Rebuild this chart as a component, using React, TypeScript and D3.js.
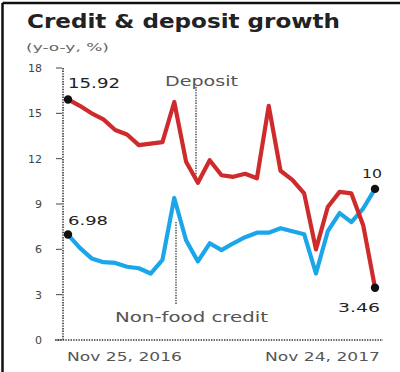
import React from "react";
import * as d3 from "d3";

const dates = [
  "2016-11-25", "2016-12-09", "2016-12-23", "2017-01-06", "2017-01-20", "2017-02-03",
  "2017-02-17", "2017-03-03", "2017-03-17", "2017-03-31", "2017-04-14", "2017-04-28",
  "2017-05-12", "2017-05-26", "2017-06-09", "2017-06-23", "2017-07-07", "2017-07-21",
  "2017-08-04", "2017-08-18", "2017-09-01", "2017-09-15", "2017-09-29", "2017-10-13",
  "2017-10-27", "2017-11-10", "2017-11-24",
];
const deposit = [
  15.92, 15.5, 15.0, 14.6, 13.9, 13.6, 12.9, 13.0, 13.1, 15.75, 11.8, 10.4, 11.9, 10.9,
  10.8, 11.0, 10.7, 15.5, 11.2, 10.6, 9.7, 6.0, 8.8, 9.8, 9.7, 7.6, 3.46,
];
const credit = [
  6.98, 6.1, 5.4, 5.15, 5.1, 4.85, 4.75, 4.4, 5.3, 9.4, 6.6, 5.2, 6.4, 5.95, 6.4, 6.8,
  7.1, 7.1, 7.4, 7.2, 7.0, 4.4, 7.2, 8.4, 7.8, 8.7, 10.0,
];
const yTicks = [0, 3, 6, 9, 12, 15, 18];
const dateLabels = ["Nov 25, 2016", "Nov 24, 2017"];

export default function App() {
  const parse = d3.timeParse("%Y-%m-%d");
  const xs = dates.map((d) => parse(d) as Date);
  const x = d3.scaleTime().domain(d3.extent(xs) as [Date, Date]).range([68, 375]);
  const y = d3.scaleLinear().domain([0, 18]).range([340, 68]);
  const line = d3
    .line<number>()
    .x((_, i) => x(xs[i]))
    .y((v) => y(v));
  const font = "DejaVu Sans, Verdana, sans-serif";
  const last = xs.length - 1;
  const red = "#cf2a2c";
  const blue = "#1ca6ea";
  const dot = "1.4,1.2";

  return (
    <svg
      width={400}
      height={372}
      style={{ position: "absolute", left: 0, top: 0, background: "#fff" }}
      fontFamily={font}
    >
      <rect x={0} y={0} width={400} height={372} fill="#fff" />
      {/* frame */}
      <line x1={2.5} y1={3} x2={400} y2={3} stroke="#111" strokeWidth={2.5} />
      <line x1={2.5} y1={3} x2={2.5} y2={372} stroke="#111" strokeWidth={2.5} />

      <text x={27} y={28} fontSize={19} fontWeight="bold" fill="#222" textLength={313} lengthAdjust="spacingAndGlyphs">
        Credit &amp; deposit growth
      </text>
      <text x={26} y={51} fontSize={11} fill="#666" textLength={83} lengthAdjust="spacingAndGlyphs">
        (y-o-y, %)
      </text>

      {/* y axis */}
      <line x1={63} y1={y(18)} x2={63} y2={y(0)} stroke="#333" strokeWidth={1.6} strokeDasharray={dot} />
      {yTicks.map((t) => (
        <g key={t}>
          <line x1={56} x2={62} y1={y(t)} y2={y(t)} stroke="#444" strokeWidth={1} />
          <text x={42} y={y(t) + 4} fontSize={11} fill="#444" textAnchor="end">
            {t}
          </text>
        </g>
      ))}
      {/* x axis */}
      <line x1={55} y1={y(0)} x2={383} y2={y(0)} stroke="#333" strokeWidth={1.6} strokeDasharray={dot} />
      <text x={67} y={361} fontSize={13} fill="#555" textLength={115} lengthAdjust="spacingAndGlyphs">
        {dateLabels[0]}
      </text>
      <text x={265} y={361} fontSize={13} fill="#555" textLength={115} lengthAdjust="spacingAndGlyphs">
        {dateLabels[1]}
      </text>

      {/* leaders */}
      <line x1={196} x2={196} y1={87} y2={y(deposit[11]) - 4} stroke="#444" strokeWidth={1.4} strokeDasharray={dot} />
      <line x1={176} x2={176} y1={y(credit[9]) + 24} y2={304} stroke="#444" strokeWidth={1.4} strokeDasharray={dot} />

      {/* lines */}
      <path d={line(credit) ?? ""} fill="none" stroke={blue} strokeWidth={4.2} strokeLinejoin="round" />
      <path d={line(deposit) ?? ""} fill="none" stroke={red} strokeWidth={4.2} strokeLinejoin="round" />

      {/* end dots */}
      {[deposit, credit].map((s, k) => (
        <g key={k}>
          <circle cx={x(xs[0])} cy={y(s[0])} r={4.2} fill="#111" />
          <circle cx={x(xs[last])} cy={y(s[last])} r={4.2} fill="#111" />
        </g>
      ))}

      {/* labels */}
      <text x={68} y={88} fontSize={14} fill="#222" textLength={52} lengthAdjust="spacingAndGlyphs">
        {deposit[0].toFixed(2)}
      </text>
      <text x={68} y={225} fontSize={13} fill="#222" textLength={40} lengthAdjust="spacingAndGlyphs">
        {credit[0].toFixed(2)}
      </text>
      <text x={362} y={178} fontSize={13} fill="#222" textLength={20} lengthAdjust="spacingAndGlyphs">
        {String(credit[last])}
      </text>
      <text x={338} y={312} fontSize={13} fill="#222" textLength={42} lengthAdjust="spacingAndGlyphs">
        {deposit[last].toFixed(2)}
      </text>
      <text x={165} y={86} fontSize={14} fill="#555" textLength={73} lengthAdjust="spacingAndGlyphs">
        Deposit
      </text>
      <text x={115} y={322} fontSize={14} fill="#555" textLength={153} lengthAdjust="spacingAndGlyphs">
        Non-food credit
      </text>
    </svg>
  );
}
